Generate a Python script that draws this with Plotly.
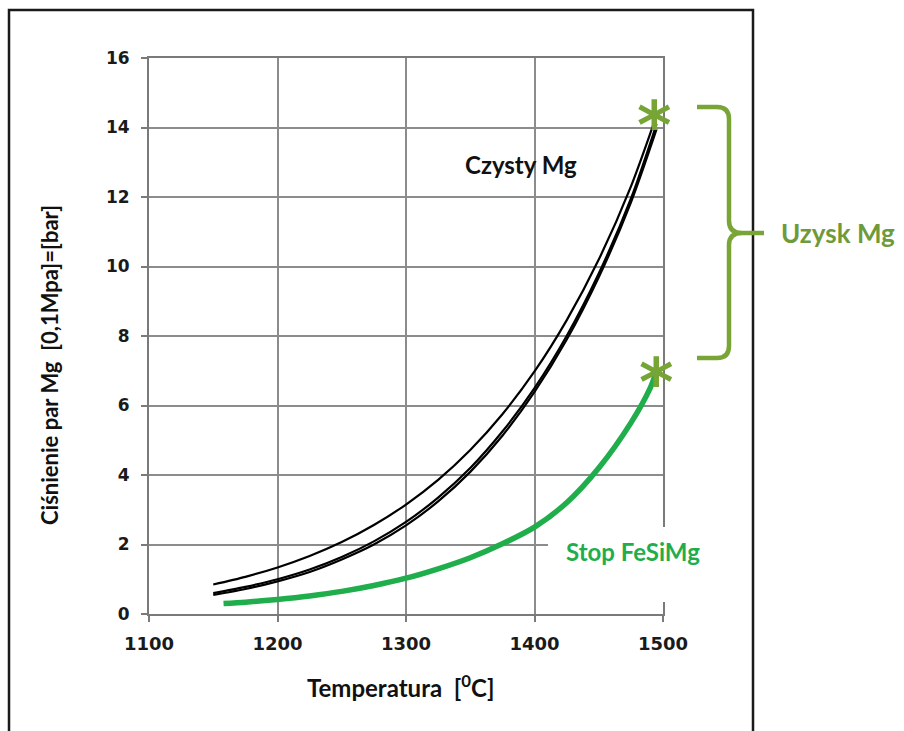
import plotly.graph_objects as go

# ---- data ----
temp_mg = [1150, 1175, 1200, 1225, 1250, 1275, 1300, 1325, 1350, 1375, 1400, 1425, 1450, 1475, 1495]
mg_upper = [0.85, 1.07, 1.34, 1.67, 2.07, 2.56, 3.15, 3.86, 4.72, 5.75, 6.98, 8.45, 10.2, 12.3, 14.35]
mg_mid = [0.60, 0.78, 1.00, 1.28, 1.64, 2.09, 2.65, 3.35, 4.20, 5.25, 6.50, 8.00, 9.80, 11.95, 14.10]
mg_low = [0.55, 0.72, 0.94, 1.21, 1.57, 2.00, 2.55, 3.24, 4.09, 5.13, 6.39, 7.89, 9.69, 11.84, 13.95]

temp_fesimg = [1158, 1175, 1200, 1225, 1250, 1275, 1300, 1325, 1350, 1375, 1400, 1425, 1450, 1475, 1490, 1495]
p_fesimg = [0.30, 0.34, 0.42, 0.52, 0.65, 0.82, 1.03, 1.30, 1.62, 2.02, 2.50, 3.20, 4.20, 5.50, 6.50, 7.00]

star_t = [1493, 1495]
star_p = [14.4, 7.0]

x_ticks = [1100, 1200, 1300, 1400, 1500]
y_ticks = [0, 2, 4, 6, 8, 10, 12, 14, 16]

# ---- layout geometry (pixels) ----
W, H = 904, 731
L, R, T, B = 149, 663, 58, 614


def fx(px):
    return (px - L) / (R - L)


def fy(py):
    return (B - py) / (B - T)


fig = go.Figure()

for ys in (mg_upper, mg_mid, mg_low):
    fig.add_trace(go.Scatter(x=temp_mg, y=ys, mode="lines",
                             line=dict(color="#000000", width=2.2, shape="spline", smoothing=0.8),
                             hoverinfo="skip", showlegend=False))

fig.add_trace(go.Scatter(x=temp_fesimg, y=p_fesimg, mode="lines",
                         line=dict(color="#1fae4b", width=5.5, shape="spline", smoothing=0.8),
                         hoverinfo="skip", showlegend=False))

green_b = "#79a536"

# brace path in paper coordinates
pts = [
    ("M", 697, 107), ("L", 717, 107), ("Q", 729, 107, 729, 119), ("L", 729, 221),
    ("Q", 729, 233, 742, 233), ("L", 764, 233),
    ("M", 742, 233), ("Q", 729, 233, 729, 245), ("L", 729, 346),
    ("Q", 729, 358, 717, 358), ("L", 697, 358),
]
path = ""
for p in pts:
    cmd = p[0]
    coords = p[1:]
    s = []
    for i in range(0, len(coords), 2):
        s.append(f"{fx(coords[i]):.5f},{fy(coords[i+1]):.5f}")
    path += cmd + " " + " ".join(s) + " "

shapes = [
    # white gap box behind "Stop FeSiMg"
    dict(type="rect", xref="paper", yref="paper", x0=fx(548), x1=fx(710), y0=fy(602), y1=fy(527),
         fillcolor="white", line=dict(width=0), layer="above"),
    # outer frame
    dict(type="rect", xref="paper", yref="paper", x0=fx(9), x1=fx(753), y0=fy(740), y1=fy(10),
         line=dict(color="#1a1a1a", width=2.5), fillcolor="rgba(0,0,0,0)", layer="above"),
    dict(type="path", xref="paper", yref="paper", path=path, line=dict(color=green_b, width=4.5), layer="above"),
]

annotations = [
    dict(text="<b>Czysty Mg</b>", xref="paper", yref="paper", x=fx(521), y=fy(164), showarrow=False,
         font=dict(family="Lato", size=24, color="#111111"), xanchor="center", yanchor="middle"),
    dict(text="<b>Stop FeSiMg</b>", xref="paper", yref="paper", x=fx(633), y=fy(551), showarrow=False,
         font=dict(family="Lato", size=24, color="#1fae4b"), xanchor="center", yanchor="middle"),
    dict(text="<b>Uzysk Mg</b>", xref="paper", yref="paper", x=fx(779), y=fy(233), showarrow=False,
         font=dict(family="Lato", size=26, color="#6e9a3a"), xanchor="left", yanchor="middle"),
    dict(text="<b>Temperatura  [<sup>0</sup>C]</b>", xref="paper", yref="paper", x=fx(400), y=fy(686),
         showarrow=False, font=dict(family="Lato", size=24, color="#111111"), xanchor="center", yanchor="middle"),
    dict(text="<b>Ciśnienie par Mg  [0,1Mpa]=[bar]</b>", xref="paper", yref="paper", x=fx(49), y=fy(365),
         showarrow=False, textangle=-90, font=dict(family="Lato", size=22, color="#111111"),
         xanchor="center", yanchor="middle"),
]

# asterisks anchored at their data points
for t, p in zip(star_t, star_p):
    annotations.append(dict(text="<b>*</b>", x=t, y=p, xref="x", yref="y", showarrow=False,
                            font=dict(family="DejaVu Sans", size=66, color="#77a535"),
                            xanchor="center", yanchor="middle", yshift=-12))

fig.update_layout(
    width=W, height=H,
    margin=dict(l=L, r=W - R, t=T, b=H - B, pad=0),
    paper_bgcolor="white", plot_bgcolor="white",
    shapes=shapes, annotations=annotations,
    showlegend=False,
    xaxis=dict(range=[1100, 1500], tickvals=x_ticks, ticktext=[str(v) for v in x_ticks],
               showgrid=True, gridcolor="#8c8c8c", gridwidth=1.5,
               showline=True, linecolor="#7a7a7a", linewidth=2, mirror=True,
               ticks="outside", ticklen=6, tickcolor="#7a7a7a", tickwidth=2,
               tickfont=dict(family="DejaVu Sans", size=18, color="#1a1a1a", weight="bold"),
               ticklabelstandoff=6, zeroline=False),
    yaxis=dict(range=[0, 16], tickvals=y_ticks, ticktext=[str(v) for v in y_ticks],
               showgrid=True, gridcolor="#8c8c8c", gridwidth=1.5,
               showline=True, linecolor="#7a7a7a", linewidth=2, mirror=True,
               ticks="outside", ticklen=6, tickcolor="#7a7a7a", tickwidth=2,
               tickfont=dict(family="DejaVu Sans", size=17, color="#1a1a1a", weight="bold"),
               ticklabelstandoff=8, zeroline=False),
)

fig.write_html("out.html")
